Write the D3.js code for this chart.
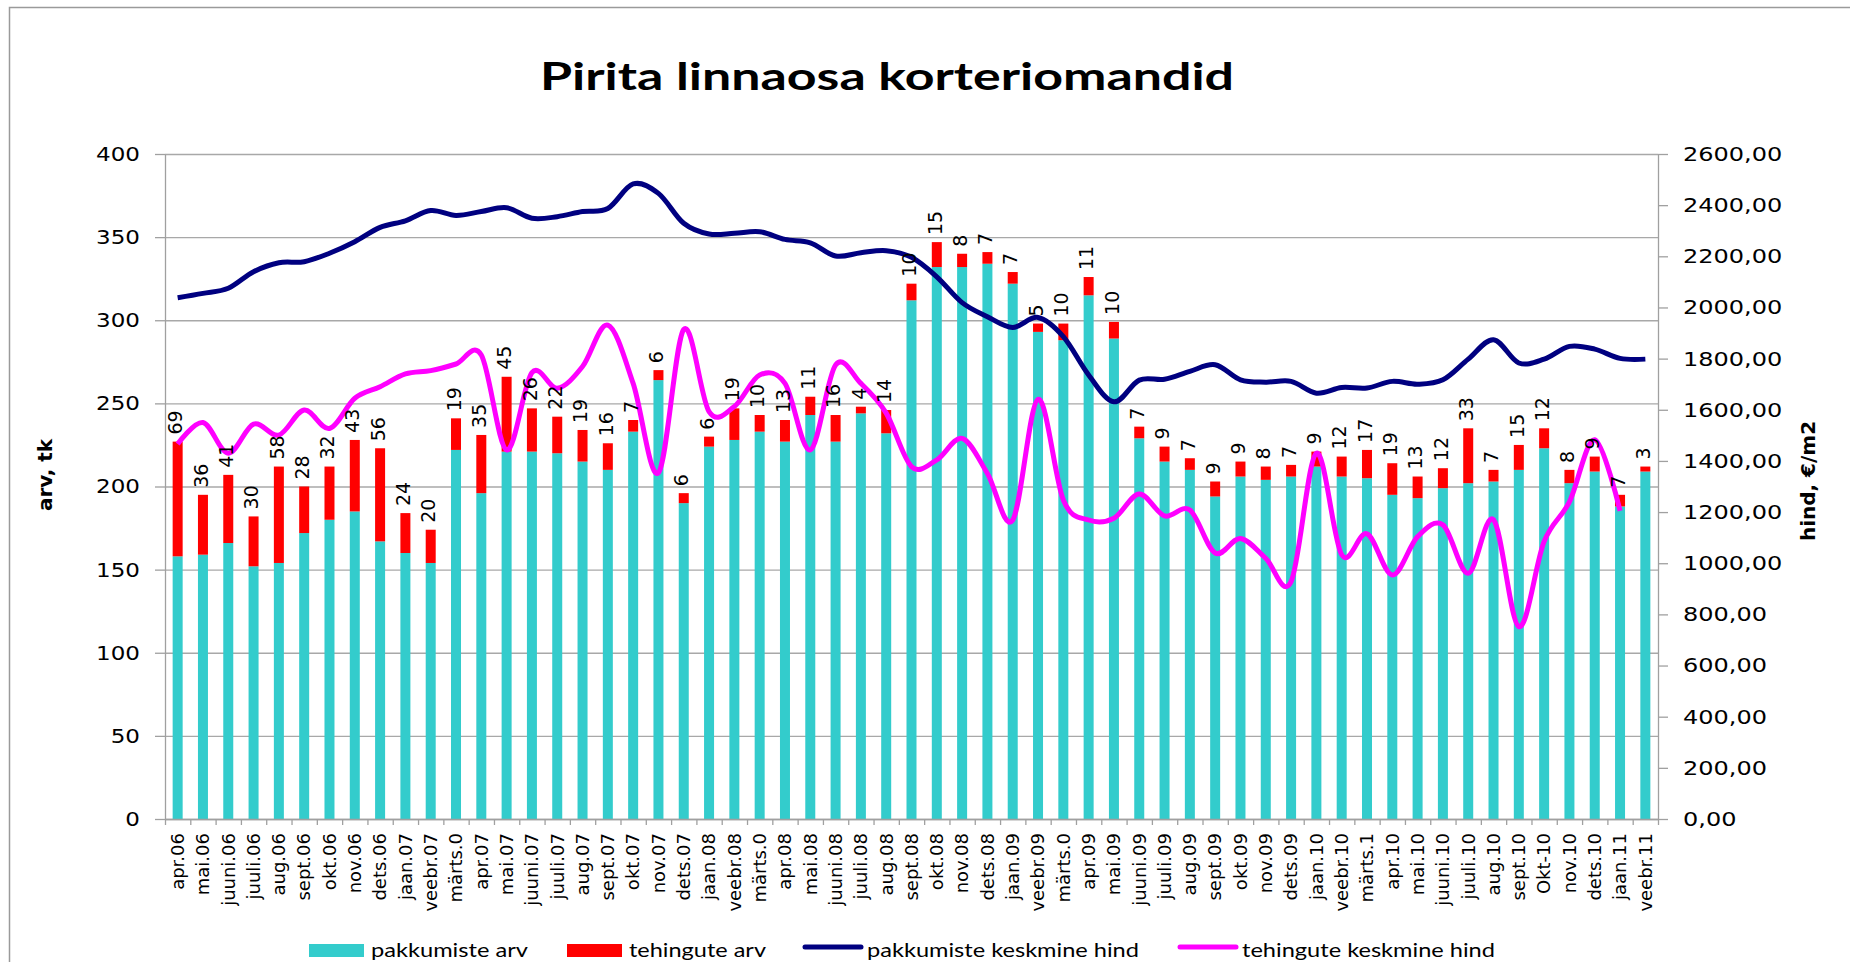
<!DOCTYPE html>
<html>
<head>
<meta charset="utf-8">
<title>Pirita linnaosa korteriomandid</title>
<script src="https://d3js.org/d3.v7.min.js"></script>
<style>
body { margin: 0; background: #fff; }
svg text { font-family: "DejaVu Sans", Verdana, sans-serif; fill: #000; }
.title { font-family: Lato, "DejaVu Sans", sans-serif; font-weight: bold; font-size: 38px; }
.legend text { font-family: Lato, "DejaVu Sans", sans-serif; font-size: 19px; }
.axis path,
.axis line { stroke: #a0a0a0; stroke-width: 1.3px; fill: none; }
.axis text { font-size: 20px; }
.xaxis path { display: none; }
.xaxis text { font-size: 18px; }
.grid line { stroke: #a8a8a8; stroke-width: 1.3px; }
.grid path { display: none; }
.barlabel { font-size: 19px; }
.atitle { font-size: 20px; font-weight: bold; }
</style>
</head>
<body>
<div id="chart"></div>
<script>
var categories = ["apr.06","mai.06","juuni.06","juuli.06","aug.06","sept.06","okt.06","nov.06","dets.06","jaan.07",
  "veebr.07","märts.0","apr.07","mai.07","juuni.07","juuli.07","aug.07","sept.07","okt.07","nov.07",
  "dets.07","jaan.08","veebr.08","märts.0","apr.08","mai.08","juuni.08","juuli.08","aug.08","sept.08",
  "okt.08","nov.08","dets.08","jaan.09","veebr.09","märts.0","apr.09","mai.09","juuni.09","juuli.09",
  "aug.09","sept.09","okt.09","nov.09","dets.09","jaan.10","veebr.10","märts.1","apr.10","mai.10",
  "juuni.10","juuli.10","aug.10","sept.10","Okt-10","nov.10","dets.10","jaan.11","veebr.11"];

// counts (left axis)
var pakkumisteArv = [158,159,166,152,154,172,180,185,167,160,
  154,222,196,221,221,220,215,210,233,264,
  190,224,228,233,227,243,227,244,232,312,
  332,332,334,322,293,288,315,289,229,215,
  210,194,206,204,206,212,206,205,195,193,
  199,202,203,210,223,202,209,188,209];
var tehinguteArv = [69,36,41,30,58,28,32,43,56,24,
  20,19,35,45,26,22,19,16,7,6,
  6,6,19,10,13,11,16,4,14,10,
  15,8,7,7,5,10,11,10,7,9,
  7,9,9,8,7,9,12,17,19,13,
  12,33,7,15,12,8,9,7,3];

// prices €/m2 (right axis)
var pakkumisteHind = [2038,2055,2075,2140,2175,2179,2212,2257,2313,2339,
  2379,2360,2375,2390,2349,2355,2375,2387,2483,2446,
  2329,2287,2290,2296,2266,2253,2201,2214,2222,2196,
  2120,2019,1964,1922,1961,1886,1736,1631,1716,1719,
  1750,1776,1717,1708,1711,1665,1687,1685,1711,1700,
  1717,1798,1874,1783,1798,1848,1837,1801,1798];
var tehinguteHind = [1466,1550,1430,1544,1501,1599,1527,1645,1690,1740,
  1753,1779,1814,1443,1745,1684,1769,1931,1703,1354,
  1914,1593,1613,1736,1703,1443,1775,1703,1587,1378,
  1404,1488,1351,1169,1641,1247,1169,1176,1271,1185,
  1208,1040,1097,1019,928,1430,1033,1115,954,1104,
  1150,961,1170,752,1085,1240,1483,1205,null];

var arvTicks = [0,50,100,150,200,250,300,350,400];
var hindTicks = [0,200,400,600,800,1000,1200,1400,1600,1800,2000,2200,2400,2600];

var seriesNames = ["pakkumiste arv","tehingute arv","pakkumiste keskmine hind","tehingute keskmine hind"];
var seriesColors = ["#33cccc","#ff0000","#000080","#ff00ff"];

var width = 1850, height = 962;
var margin = { top: 154, right: 192, bottom: 143, left: 165 };
var plotW = width - margin.left - margin.right;
var plotH = height - margin.top - margin.bottom;
var n = categories.length;

// stretch text horizontally (the original picture is wider than its fonts)
function stretch(sel, k) {
  sel.each(function() {
    var l = this.getComputedTextLength();
    d3.select(this).attr("textLength", l * k).attr("lengthAdjust", "spacingAndGlyphs");
  });
}

var svg = d3.select("#chart")
  .append("svg")
    .attr("width", width)
    .attr("height", height);

svg.append("rect").attr("width", width).attr("height", height).attr("fill", "#fff");

// frame of the chart area
svg.append("path")
  .attr("d", "M9.5," + height + "V7.5H" + width)
  .attr("fill", "none")
  .attr("stroke", "#9a9a9a")
  .attr("stroke-width", 1.5);

var g = svg.append("g")
  .attr("transform", "translate(" + margin.left + "," + margin.top + ")");

var x = d3.scaleBand()
  .domain(d3.range(n))
  .range([0, plotW]);

var xEdge = d3.scaleLinear()
  .domain([0, n])
  .range([0, plotW]);

var yL = d3.scaleLinear().domain([0, 400]).range([plotH, 0]);
var yR = d3.scaleLinear().domain([0, 2600]).range([plotH, 0]);

g.append("g")
  .attr("class", "grid")
  .call(d3.axisLeft(yL).tickValues(arvTicks).tickSize(-plotW).tickFormat(""));

var rows = categories.map(function(c, i) {
  return { i: i, p: pakkumisteArv[i], t: tehinguteArv[i] };
});

var barW = 10;
var cx = function(i) { return x(i) + x.bandwidth() / 2; };

g.selectAll("rect.pak")
  .data(rows)
  .enter().append("rect")
    .attr("class", "pak")
    .attr("x", function(d) { return cx(d.i) - barW / 2; })
    .attr("y", function(d) { return yL(d.p); })
    .attr("width", barW)
    .attr("height", function(d) { return plotH - yL(d.p); })
    .attr("fill", seriesColors[0]);

g.selectAll("rect.teh")
  .data(rows)
  .enter().append("rect")
    .attr("class", "teh")
    .attr("x", function(d) { return cx(d.i) - barW / 2; })
    .attr("y", function(d) { return yL(d.p + d.t); })
    .attr("width", barW)
    .attr("height", function(d) { return yL(d.p) - yL(d.p + d.t); })
    .attr("fill", seriesColors[1]);

// axes
g.append("g")
  .attr("class", "axis")
  .call(d3.axisLeft(yL).tickValues(arvTicks).tickSize(10).tickSizeOuter(0).tickPadding(15))
  .selectAll("text").call(stretch, 1.15);

g.append("g")
  .attr("class", "axis")
  .attr("transform", "translate(" + plotW + ",0)")
  .call(d3.axisRight(yR).tickValues(hindTicks).tickSize(10).tickSizeOuter(0).tickPadding(15)
    .tickFormat(function(d) { return d3.format(".2f")(d).replace(".", ","); }))
  .selectAll("text").call(stretch, 1.2);

g.append("g")
  .attr("class", "axis")
  .attr("transform", "translate(0," + plotH + ")")
  .call(d3.axisBottom(xEdge).tickValues(d3.range(n + 1)).tickSize(6).tickSizeOuter(0).tickFormat(""));

g.append("g")
  .attr("class", "axis xaxis")
  .attr("transform", "translate(0," + plotH + ")")
  .call(d3.axisBottom(x).tickSize(0).tickFormat(function(i) { return categories[i]; }))
  .selectAll("text")
    .attr("transform", "rotate(-90)")
    .attr("text-anchor", "end")
    .attr("x", -14)
    .attr("y", 0)
    .attr("dy", "0.35em");

// smoothed price lines
var line = d3.line()
  .defined(function(d) { return d != null; })
  .x(function(d, i) { return cx(i); })
  .y(function(d) { return yR(d); })
  .curve(d3.curveCardinal.tension(0));

g.append("path")
  .datum(pakkumisteHind)
  .attr("d", line)
  .attr("fill", "none")
  .attr("stroke", seriesColors[2])
  .attr("stroke-width", 5)
  .attr("stroke-linejoin", "round");

g.append("path")
  .datum(tehinguteHind)
  .attr("d", line)
  .attr("fill", "none")
  .attr("stroke", seriesColors[3])
  .attr("stroke-width", 5)
  .attr("stroke-linejoin", "round");

// labels of tehingute arv
g.selectAll("text.barlabel")
  .data(rows)
  .enter().append("text")
    .attr("class", "barlabel")
    .attr("transform", function(d) {
      return "translate(" + (cx(d.i) - 1) + "," + (yL(d.p + d.t) - 7) + ") rotate(-90)";
    })
    .attr("dy", "0.3em")
    .text(function(d) { return d.t; });

// titles
svg.append("text")
  .attr("class", "title")
  .attr("x", 887)
  .attr("y", 90)
  .attr("text-anchor", "middle")
  .attr("textLength", 694)
  .attr("lengthAdjust", "spacingAndGlyphs")
  .text("Pirita linnaosa korteriomandid");

svg.append("text")
  .attr("class", "atitle")
  .attr("transform", "translate(45,475) rotate(-90)")
  .attr("text-anchor", "middle")
  .attr("dy", "0.35em")
  .text("arv, tk");

svg.append("text")
  .attr("class", "atitle")
  .attr("transform", "translate(1808,481) rotate(-90)")
  .attr("text-anchor", "middle")
  .attr("dy", "0.35em")
  .text("hind, €/m2");

// legend
var legendX = [309, 567, 803, 1178];
var legendLen = [157, 137, 272, 253];

var legend = svg.selectAll(".legend")
    .data(seriesNames)
  .enter().append("g")
    .attr("class", "legend")
    .attr("transform", function(d, i) { return "translate(" + legendX[i] + ",0)"; });

legend.filter(function(d, i) { return i < 2; })
  .append("rect")
    .attr("y", 944)
    .attr("width", 55)
    .attr("height", 13)
    .attr("fill", function(d, i) { return seriesColors[i]; });

legend.filter(function(d, i) { return i >= 2; })
  .append("line")
    .attr("x1", 2)
    .attr("x2", 58)
    .attr("y1", 947)
    .attr("y2", 947)
    .attr("stroke-width", 5)
    .attr("stroke-linecap", "round")
    .attr("stroke", function(d) { return seriesColors[seriesNames.indexOf(d)]; });

legend.append("text")
  .attr("x", function(d, i) { return i < 2 ? 62 : 64; })
  .attr("y", 957)
  .attr("textLength", function(d, i) { return legendLen[i]; })
  .attr("lengthAdjust", "spacingAndGlyphs")
  .text(function(d) { return d; });
</script>
</body>
</html>
